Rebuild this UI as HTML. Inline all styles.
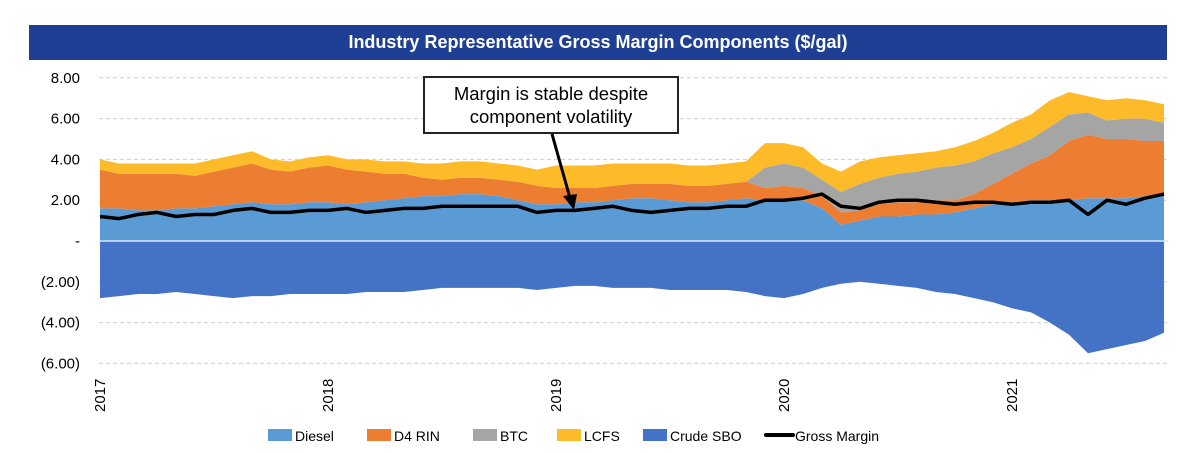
<!DOCTYPE html>
<html><head><meta charset="utf-8"><style>
html,body{margin:0;padding:0;background:#fff;width:1200px;height:453px;overflow:hidden;font-family:"Liberation Sans",sans-serif}
#title{position:absolute;left:29px;top:25px;width:1138px;height:35px;background:#1f3f94;color:#fff;font-weight:bold;font-size:18px;text-align:center;line-height:35px}
svg{position:absolute;left:0;top:0}
</style></head><body>
<div id="title">Industry Representative Gross Margin Components ($/gal)</div>
<svg id="chart" width="1200" height="453"></svg>
<script>
const startYear = 2017;
const diesel = [1.6,1.6,1.5,1.5,1.6,1.6,1.7,1.8,1.9,1.8,1.8,1.9, 1.9,1.8,1.9,2.0,2.1,2.2,2.2,2.3,2.3,2.2,2.0,1.8, 1.8,1.9,1.9,2.0,2.1,2.1,2.0,1.9,1.9,2.0,2.1,2.0, 2.0,2.0,1.6,0.8,1.0,1.2,1.2,1.3,1.3,1.4,1.6,1.8, 1.9,2.0,2.0,2.0,2.1,2.1,2.1,2.2,2.3];
const d4rin = [1.9,1.7,1.8,1.8,1.7,1.6,1.7,1.8,1.9,1.7,1.6,1.7, 1.8,1.7,1.5,1.3,1.2,0.9,0.8,0.8,0.8,0.8,0.9,0.9, 0.8,0.7,0.7,0.7,0.7,0.7,0.8,0.8,0.8,0.8,0.8,0.6, 0.7,0.6,0.6,0.6,0.5,0.6,0.7,0.6,0.7,0.6,0.7,1.0, 1.4,1.8,2.2,2.9,3.1,2.9,2.9,2.7,2.6];
const btc = [0,0,0,0,0,0,0,0,0,0,0,0, 0,0,0,0,0,0,0,0,0,0,0,0, 0,0,0,0,0,0,0,0,0,0,0,1.0, 1.1,1.0,0.8,1.0,1.3,1.3,1.4,1.5,1.6,1.7,1.6,1.5, 1.3,1.2,1.4,1.3,1.1,0.9,1.0,1.1,0.9];
const lcfs = [0.5,0.5,0.5,0.5,0.5,0.6,0.6,0.6,0.6,0.5,0.5,0.5, 0.5,0.5,0.6,0.6,0.6,0.7,0.8,0.8,0.8,0.8,0.8,0.8, 1.1,1.1,1.1,1.1,1.0,1.0,1.0,1.0,1.0,1.0,1.0,1.2, 1.0,1.0,0.8,1.0,1.1,1.0,0.9,0.9,0.8,0.9,1.0,1.0, 1.2,1.2,1.3,1.1,0.8,1.0,1.0,0.9,0.9];
const crudeSbo = [-2.8,-2.7,-2.6,-2.6,-2.5,-2.6,-2.7,-2.8,-2.7,-2.7,-2.6,-2.6, -2.6,-2.6,-2.5,-2.5,-2.5,-2.4,-2.3,-2.3,-2.3,-2.3,-2.3,-2.4, -2.3,-2.2,-2.2,-2.3,-2.3,-2.3,-2.4,-2.4,-2.4,-2.4,-2.5,-2.7, -2.8,-2.6,-2.3,-2.1,-2.0,-2.1,-2.2,-2.3,-2.5,-2.6,-2.8,-3.0, -3.3,-3.5,-4.0,-4.6,-5.5,-5.3,-5.1,-4.9,-4.5];
const grossMargin = [1.2,1.1,1.3,1.4,1.2,1.3,1.3,1.5,1.6,1.4,1.4,1.5, 1.5,1.6,1.4,1.5,1.6,1.6,1.7,1.7,1.7,1.7,1.7,1.4, 1.5,1.5,1.6,1.7,1.5,1.4,1.5,1.6,1.6,1.7,1.7,2.0, 2.0,2.1,2.3,1.7,1.6,1.9,2.0,2.0,1.9,1.8,1.9,1.9, 1.8,1.9,1.9,2.0,1.3,2.0,1.8,2.1,2.3];
const yTicks = [8,6,4,2,0,-2,-4,-6];
const yTickLabels = ["8.00","6.00","4.00","2.00","-","(2.00)","(4.00)","(6.00)"];
const yearTicks = [2017,2018,2019,2020,2021];
const legendNames = ["Diesel","D4 RIN","BTC","LCFS","Crude SBO","Gross Margin"];

const NS="http://www.w3.org/2000/svg";
const svg=document.getElementById('chart');
const X0=100, PXY=228, Y0=241, PXU=20.4, XR=1168;
const xs=t=>X0+PXY*(t-startYear);
const ys=v=>Y0-PXU*v;
const tOf=i=>startYear+i/12;
function mk(tag,attrs,parent){const e=document.createElementNS(NS,tag);for(const k in attrs)e.setAttribute(k,attrs[k]);(parent||svg).appendChild(e);return e;}

yTicks.forEach((v,i)=>{
  if(v!==0){const g=mk('line',{x1:99,x2:XR,y1:ys(v),y2:ys(v),stroke:'#d0d0d0','stroke-dasharray':'4,3','stroke-width':1});
  
  }
  const t=mk('text',{x:80,y:ys(v)+5,'text-anchor':'end','font-size':15,fill:'#000'});
  t.textContent=yTickLabels[i];
  
  
});

const n=diesel.length;
const base=new Array(n).fill(0);
function area(vals,color,name){
  const top=vals.map((v,i)=>base[i]+v);
  let d='M'+xs(tOf(0))+','+ys(base[0]);
  for(let i=0;i<n;i++) d+='L'+Math.min(XR,xs(tOf(i))).toFixed(1)+','+ys(top[i]).toFixed(1);
  for(let i=n-1;i>=0;i--) d+='L'+Math.min(XR,xs(tOf(i))).toFixed(1)+','+ys(base[i]).toFixed(1);
  const p=mk('path',{d:d+'Z',fill:color});
  
  
  for(let i=0;i<n;i++) base[i]=top[i];
}
area(diesel,'#5b9bd5','diesel-area');
area(d4rin,'#ed7d31','d4-rin-area');
area(btc,'#a5a5a5','btc-area');
area(lcfs,'#fdbb2a','lcfs-area');
base.fill(0);
area(crudeSbo,'#4472c4','crude-sbo-area');
const zl=mk('line',{x1:99,x2:XR,y1:Y0,y2:Y0,stroke:'#dce6f2','stroke-width':1.5});



const pts=grossMargin.map((v,i)=>Math.min(XR,xs(tOf(i))).toFixed(1)+','+ys(v).toFixed(1)).join(' ');
const ml=mk('polyline',{points:pts,fill:'none',stroke:'#000','stroke-width':3.5,'stroke-linejoin':'round'});



yearTicks.forEach(y=>{
  const x=xs(y)+5;
  const t=mk('text',{x:x,y:412,transform:'rotate(-90 '+x+' 412)','font-size':15,fill:'#000'});
  t.textContent=y;
  
  
});

const ab=mk('rect',{x:424,y:77,width:254,height:56,fill:'#fff',stroke:'#222','stroke-width':2});


['Margin is stable despite','component volatility'].forEach((s,i)=>{
  const t=mk('text',{x:551,y:100+i*23,'text-anchor':'middle','font-size':18.5,fill:'#000'});
  t.textContent=s;
  
  
});
const ar=mk('line',{x1:552,y1:134,x2:570,y2:198,stroke:'#000','stroke-width':3});


const ah=mk('polygon',{points:'563,196 577,194 574,210',fill:'#000'});



const legColors=['#5b9bd5','#ed7d31','#a5a5a5','#fdbb2a','#4472c4'];
const legX=[268,367,473,557,643,766];
legendNames.forEach((nm,i)=>{
  const g=mk('g',{});
  
  
  if(i<5) mk('rect',{x:legX[i],y:429,width:24,height:12,fill:legColors[i]},g);
  else mk('line',{x1:legX[i],x2:legX[i]+27,y1:435,y2:435,stroke:'#000','stroke-width':4,'stroke-linecap':'round'},g);
  const t=mk('text',{x:legX[i]+(i<5?27:29),y:441,'font-size':14,fill:'#000'},g);
  t.textContent=nm;
});
</script>
</body></html>
